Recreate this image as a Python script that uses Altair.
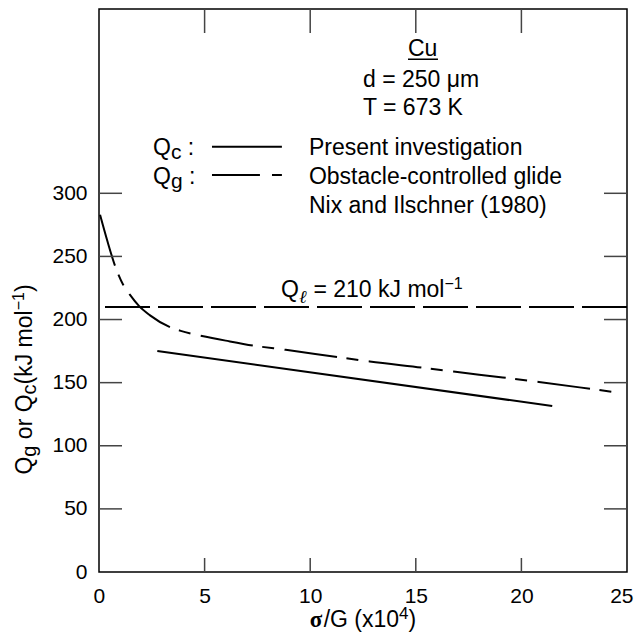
import altair as alt
import pandas as pd

# ---------------- data ----------------
x_tick_values = [0, 5, 10, 15, 20, 25]
y_tick_values = [0, 50, 100, 150, 200, 250, 300]
inner_x_ticks = [5, 10, 15, 20]
inner_y_ticks = [50, 100, 150, 200, 250, 300]

# Q_c : present investigation (solid)
qc_x = [2.76, 21.46]
qc_y = [175.1, 131.5]

# Q_g : obstacle-controlled glide (long-short dash)
qg_x = [0.05, 0.4, 0.76, 1.15, 1.47, 1.89, 2.4, 3.36, 3.87, 4.44, 4.81, 6.0,
        7.29, 8.84, 11.28, 12.82, 15.31, 18.0, 20.83, 23.3, 24.34]
qg_y = [283, 262, 242.5, 227.4, 219.5, 210.8, 203.5, 194, 191, 188.5, 187.2,
        183.3, 179.4, 176, 170.3, 166.8, 161.9, 156.3, 150.6, 145, 142.6]

# Q_l lattice diffusion
ql_value = [210]

info_lines = ["d = 250 μm", "T = 673 K"]
legend_labels = ["Present investigation", "Obstacle-controlled glide",
                 "Nix and Ilschner (1980)"]

# ---------------- layout ----------------
W, H = 528, 563
X_MAX, Y_MAX = 25, 446
FONT = "Liberation Sans"
TICK_COLOR = "#444444"

xs = alt.Scale(domain=[0, X_MAX], nice=False, zero=False)
ys = alt.Scale(domain=[0, Y_MAX], nice=False, zero=False)

AX_X = alt.Axis(values=x_tick_values, ticks=False, domain=False, grid=False,
                labelFontSize=21, labelFont=FONT, labelColor="black",
                labelPadding=13, labelFlush=True, labelFlushOffset=6, title=None)
AX_Y = alt.Axis(values=y_tick_values, ticks=False, domain=False, grid=False,
                labelFontSize=21, labelFont=FONT, labelColor="black",
                labelPadding=12, title=None)


def X(field="x:Q"):
    return alt.X(field, scale=xs, axis=AX_X)


def Y(field="y:Q"):
    return alt.Y(field, scale=ys, axis=AX_Y)


ARIAL = {' ': 278, '(': 333, ')': 333, '/': 278, '=': 584, ':': 278,
         '−': 584, 'Q': 778, 'G': 778, 'C': 722, 'k': 500, 'J': 500, 'm': 833,
         'o': 556, 'l': 222, 'r': 333, 'g': 556, 'c': 500, 'x': 500, 'u': 556,
         'ℓ': 450, 'σ': 600}
for d in "0123456789":
    ARIAL[d] = 556


def adv(s, size):
    return sum(ARIAL.get(ch, 556) for ch in s) * size / 1000.0


def text_layer(x, y, s, size, dx=0.0, dy=0.0, font=FONT, weight="normal",
               style="normal", angle=0, xpix=None, ypix=None):
    df = pd.DataFrame({"x": [x], "y": [y], "t": [s]})
    enc = dict(text="t:N")
    enc["x"] = alt.value(xpix) if xpix is not None else X()
    enc["y"] = alt.value(ypix) if ypix is not None else Y()
    return alt.Chart(df).mark_text(
        align="left", baseline="alphabetic", fontSize=size, font=font,
        fontWeight=weight, fontStyle=style, dx=dx, dy=dy, angle=angle,
        color="black").encode(**enc)


def composite(x, y, pieces, center=False, angle=0, xpix=None, ypix=None):
    """Chain text pieces (sub/superscripts); spaces become offsets."""
    widths = [adv(p["s"], p["size"]) for p in pieces]
    cum = -sum(widths) / 2 if center else 0.0
    out = []
    for p, w in zip(pieces, widths):
        s = p["s"]
        lead = len(s) - len(s.lstrip(" "))
        core = s.strip(" ")
        if core:
            out.append(text_layer(x, y, core, p["size"],
                                  dx=cum + adv(" " * lead, p["size"]),
                                  dy=p.get("dy", 0),
                                  font=p.get("font", FONT), weight=p.get("weight", "normal"),
                                  style=p.get("style", "normal"), angle=angle,
                                  xpix=xpix, ypix=ypix))
        cum += w
    return out


layers = []

# Q_g curve
qg_df = pd.DataFrame({"x": qg_x, "y": qg_y})
layers.append(
    alt.Chart(qg_df).mark_line(color="black", strokeWidth=2, interpolate="monotone",
                               strokeDash=[53, 9.5, 12, 10.5]).encode(
        x=X(), y=Y(), order=alt.Order("x:Q"))
)

# Q_c line
qc_df = pd.DataFrame({"x": qc_x, "y": qc_y})
layers.append(alt.Chart(qc_df).mark_line(color="black", strokeWidth=2).encode(x=X(), y=Y()))

# Q_l horizontal dashed line
ql_df = pd.DataFrame({"y": ql_value})
layers.append(alt.Chart(ql_df).mark_rule(color="black", strokeWidth=2,
                                         strokeDash=[45, 8]).encode(y=Y()))

# inner ticks
left_df = pd.DataFrame({"x": [0] * len(inner_y_ticks), "y": inner_y_ticks})
right_df = pd.DataFrame({"x": [X_MAX] * len(inner_y_ticks), "y": inner_y_ticks})
top_df = pd.DataFrame({"x": inner_x_ticks, "y": [Y_MAX] * len(inner_x_ticks)})
bot_df = pd.DataFrame({"x": inner_x_ticks, "y": [0] * len(inner_x_ticks)})
tick_mark = dict(color=TICK_COLOR, strokeWidth=1.5)
layers.append(alt.Chart(left_df).mark_rule(**tick_mark).encode(x=X(), x2=alt.value(23), y=Y()))
layers.append(alt.Chart(right_df).mark_rule(**tick_mark).encode(x=X(), x2=alt.value(W - 23), y=Y()))
layers.append(alt.Chart(top_df).mark_rule(**tick_mark).encode(x=X(), y=Y(), y2=alt.value(24)))
layers.append(alt.Chart(bot_df).mark_rule(**tick_mark).encode(x=X(), y=Y(), y2=alt.value(H - 14)))

# legend sample lines + underline of "Cu"
seg_df = pd.DataFrame({
    "x": [5.35, 5.35, 8.19, 14.63],
    "x2": [8.66, 7.62, 8.66, 16.05],
    "y": [336.9, 314.5, 314.5, 406.2],
    "w": [2, 2, 2, 1.5],
})
layers.append(alt.Chart(seg_df).mark_rule(color="black").encode(
    x=X(), x2="x2:Q", y=Y(),
    strokeWidth=alt.StrokeWidth("w:Q", scale=None, legend=None)))

# annotation texts
layers.append(text_layer(14.63, 408.8, "Cu", 23))
layers.append(text_layer(12.5, 384.5, info_lines[0], 23))
layers.append(text_layer(12.5, 362.0, info_lines[1], 23))
layers += composite(2.56, 330.4, [dict(s="Q", size=23), dict(s="c", size=21, dy=4),
                                  dict(s=" :", size=23)])
layers += composite(2.56, 307.1, [dict(s="Q", size=23), dict(s="g", size=21, dy=4),
                                  dict(s=" :", size=23)])
layers.append(text_layer(9.94, 330.4, legend_labels[0], 23))
layers.append(text_layer(9.94, 307.1, legend_labels[1], 23))
layers.append(text_layer(9.94, 284.2, legend_labels[2], 23))
layers += composite(8.62, 217.9, [
    dict(s="Q", size=23),
    dict(s="ℓ", size=18, dy=6, font="DejaVu Serif", style="italic"),
    dict(s=" = 210 kJ mol", size=23),
    dict(s="−1", size=16, dy=-8)])

# axis titles
layers += composite(12.5, 0, [
    dict(s="σ", size=23, font="Liberation Serif", weight="bold"),
    dict(s="/G (x10", size=23),
    dict(s="4", size=17, dy=-8),
    dict(s=")", size=23)], center=True, ypix=H + 55)
layers += composite(0, 152.5, [
    dict(s="Q", size=23), dict(s="g", size=20, dy=4),
    dict(s=" or ", size=23), dict(s="Q", size=23), dict(s="c", size=20, dy=4),
    dict(s="(kJ mol", size=23), dict(s="−1", size=16, dy=-8),
    dict(s=")", size=23)], center=True, angle=270, xpix=-67)

chart = alt.layer(*layers).properties(
    width=W, height=H,
    background="white",
    padding={"left": 91, "top": 1, "right": 7, "bottom": 60},
    autosize=alt.AutoSizeParams(type="none"),
).configure_view(stroke="black", strokeWidth=1.5)

chart.save("out.html", embed_options={"renderer": "svg", "actions": False})
